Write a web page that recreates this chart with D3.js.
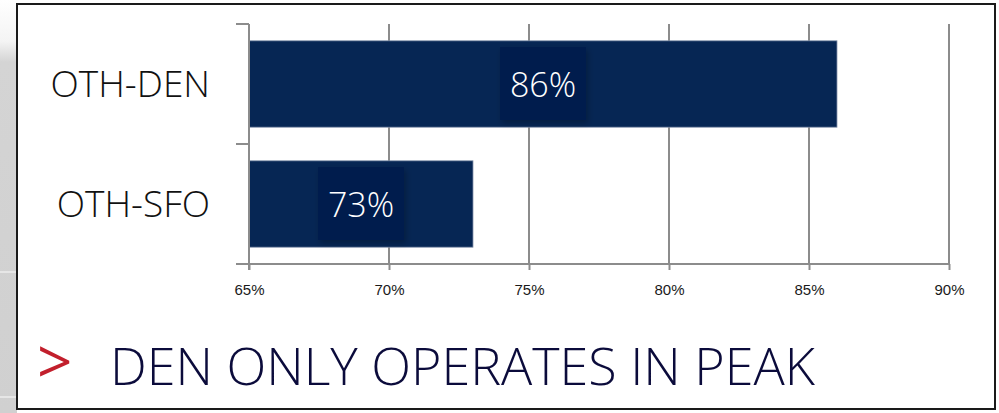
<!DOCTYPE html>
<html>
<head>
<meta charset="utf-8">
<script src="https://cdn.jsdelivr.net/npm/d3@7"></script>
<style>
  body { margin: 0; background: #fff; }
  svg { display: block; }
</style>
</head>
<body>
<div id="vis"></div>
<script>
var width = 999,
    height = 413;

// data
var routes = ["OTH-DEN", "OTH-SFO"];
var loadFactors = [86, 73];
var tickValues = [65, 70, 75, 80, 85, 90];
var headline = "DEN ONLY OPERATES IN PEAK";

var svg = d3.select("#vis").append("svg")
    .attr("width", width)
    .attr("height", height);

var defs = svg.append("defs");
var grad = defs.append("linearGradient")
    .attr("id", "sideFade")
    .attr("x1", 0).attr("y1", 0).attr("x2", 0).attr("y2", 1);
grad.append("stop").attr("offset", "0%").attr("stop-color", "#ffffff");
grad.append("stop").attr("offset", "10%").attr("stop-color", "#f4f4f4");
grad.append("stop").attr("offset", "15%").attr("stop-color", "#d4d4d4");
grad.append("stop").attr("offset", "100%").attr("stop-color", "#d0d0d0");

var shadow = defs.append("filter").attr("id", "shadow")
    .attr("x", "-30%").attr("y", "-30%").attr("width", "160%").attr("height", "160%");
shadow.append("feDropShadow")
    .attr("dx", 2).attr("dy", 3).attr("stdDeviation", 3)
    .attr("flood-color", "#000").attr("flood-opacity", 0.25);

// grey slide strip on the left
svg.append("rect")
    .attr("x", 0).attr("y", 0)
    .attr("width", 17).attr("height", height)
    .attr("fill", "url(#sideFade)");
svg.append("line")
    .attr("x1", 0).attr("x2", 16).attr("y1", 272).attr("y2", 272)
    .attr("stroke", "#e6e6e6").attr("stroke-width", 2);
svg.append("line")
    .attr("x1", 0).attr("x2", 16).attr("y1", 397).attr("y2", 397)
    .attr("stroke", "#e6e6e6").attr("stroke-width", 2);

// frame
svg.append("rect")
    .attr("x", 17).attr("y", 4)
    .attr("width", 978).attr("height", 405)
    .attr("fill", "#fff")
    .attr("stroke", "#1a1a1a")
    .attr("stroke-width", 2);

//--------CHART--------//
var x = d3.scaleLinear()
    .domain([65, 90])
    .range([249, 949]);

var y = d3.scaleBand()
    .domain(routes)
    .range([24, 264])
    .paddingInner(0.28)
    .paddingOuter(0.14);

var gridColor = "#8c8c8c";

// vertical gridlines
svg.append("g")
  .selectAll("line")
    .data(tickValues.slice(1))
    .enter()
    .append("line")
    .attr("x1", function(d) { return x(d); })
    .attr("x2", function(d) { return x(d); })
    .attr("y1", 24)
    .attr("y2", 264)
    .attr("stroke", gridColor)
    .attr("stroke-width", 2);

// bars
var rows = routes.map(function(r, i) { return { route: r, value: loadFactors[i] }; });

svg.append("g")
  .selectAll("rect")
    .data(rows)
    .enter()
    .append("rect")
    .attr("x", x(65))
    .attr("y", function(d) { return y(d.route); })
    .attr("width", function(d) { return x(d.value) - x(65); })
    .attr("height", y.bandwidth())
    .attr("fill", "#062654")
    .attr("stroke", "#8795ad")
    .attr("stroke-width", 0.8);

// y axis
var yAxis = svg.append("g")
    .attr("transform", "translate(" + x(65) + ",0)")
    .call(d3.axisLeft(y).tickSize(0).tickFormat(""));
yAxis.select(".domain").remove();
yAxis.append("line")
    .attr("x1", 0).attr("x2", 0)
    .attr("y1", 24).attr("y2", 270)
    .attr("stroke", gridColor).attr("stroke-width", 2);
yAxis.selectAll(".sep")
    .data([24, 144, 264])
    .enter()
    .append("line")
    .attr("class", "sep")
    .attr("x1", -13).attr("x2", 0)
    .attr("y1", function(d) { return d; })
    .attr("y2", function(d) { return d; })
    .attr("stroke", gridColor).attr("stroke-width", 2);

// x axis
var xAxis = svg.append("g")
    .attr("transform", "translate(0,264)")
    .call(d3.axisBottom(x)
        .tickValues(tickValues)
        .tickSize(6)
        .tickPadding(14)
        .tickFormat(function(d) { return d + "%"; }));
xAxis.select(".domain")
    .attr("d", "M236,0H" + x(90))
    .attr("stroke", gridColor)
    .attr("stroke-width", 2);
xAxis.selectAll(".tick line")
    .attr("stroke", gridColor)
    .attr("stroke-width", 2);
xAxis.selectAll(".tick text")
    .attr("fill", "#1a1a1a")
    .style("font-family", "'Liberation Sans', Arial, sans-serif")
    .style("font-size", "15px");

// category labels
svg.append("g")
  .selectAll("text")
    .data(routes)
    .enter()
    .append("text")
    .attr("x", 210)
    .attr("y", function(d) { return y(d) + y.bandwidth() / 2; })
    .attr("dy", "0.36em")
    .attr("text-anchor", "end")
    .attr("fill", "#111")
    .style("font-family", "'Open Sans', 'Noto Sans', sans-serif")
    .style("font-weight", 300)
    .style("font-size", "37px")
    .text(function(d) { return d; });

// value labels with little boxes
var labels = svg.append("g")
  .selectAll("g")
    .data(rows)
    .enter()
    .append("g")
    .attr("transform", function(d) {
        return "translate(" + ((x(65) + x(d.value)) / 2) + "," + (y(d.route) + y.bandwidth() / 2) + ")";
    });

labels.append("rect")
    .attr("x", -43).attr("y", -37)
    .attr("width", 86).attr("height", 73)
    .attr("fill", "#041f4e")
    .attr("filter", "url(#shadow)");

labels.append("text")
    .attr("text-anchor", "middle")
    .attr("dy", "0.38em")
    .attr("fill", "#fff")
    .style("font-family", "'Open Sans', 'Noto Sans', sans-serif")
    .style("font-weight", 300)
    .style("font-size", "34px")
    .text(function(d) { return d.value + "%"; });

// headline
svg.append("text")
    .attr("x", 37)
    .attr("y", 384)
    .attr("fill", "#c21f2c")
    .style("font-family", "'Open Sans', 'Noto Sans', sans-serif")
    .style("font-weight", 400)
    .style("font-size", "62px")
    .text(">");

svg.append("text")
    .attr("x", 110)
    .attr("y", 385)
    .attr("fill", "#0b0b3b")
    .style("font-family", "'Open Sans', 'Noto Sans', sans-serif")
    .style("font-weight", 300)
    .style("font-size", "52px")
    .text(headline);
</script>
</body>
</html>
